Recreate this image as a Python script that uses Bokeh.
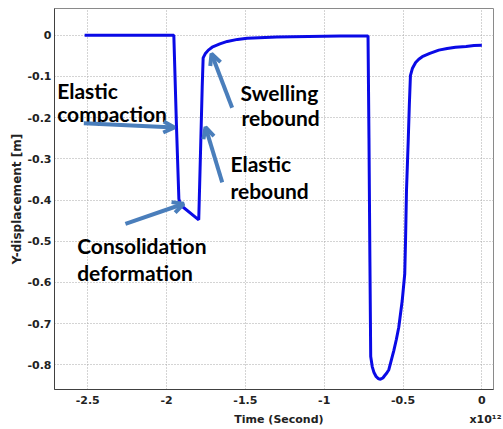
from bokeh.plotting import figure
from bokeh.models import (Range1d, FixedTicker, Arrow, OpenHead, ColumnDataSource,
                          LinearAxis)
from bokeh.core.properties import value
from bokeh.embed import file_html
from bokeh.resources import INLINE

# ---- data (time in units of 1e12 s, Y-displacement in m) ----
time_e12 = [-2.52, -1.954, -1.937, -1.922, -1.912, -1.796, -1.785, -1.774, -1.768,
            -1.755, -1.735, -1.711, -1.662, -1.615, -1.55, -1.489, -1.3, -1.1,
            -0.897, -0.722, -0.716, -0.710, -0.705, -0.695, -0.685, -0.670, -0.655,
            -0.643, -0.628, -0.616, -0.603, -0.590, -0.575, -0.558, -0.542, -0.527,
            -0.505, -0.489, -0.484, -0.478, -0.467, -0.460, -0.453, -0.440, -0.420,
            -0.400, -0.378, -0.330, -0.273, -0.220, -0.167, -0.100, -0.050, 0.0]
y_disp = [0.0, 0.0, -0.223, -0.397, -0.412, -0.448, -0.288, -0.126, -0.055,
          -0.045, -0.036, -0.029, -0.021, -0.015, -0.010, -0.007, -0.004, -0.003,
          -0.002, -0.002, -0.25, -0.55, -0.78, -0.805, -0.818, -0.829, -0.834,
          -0.835, -0.832, -0.826, -0.820, -0.812, -0.790, -0.765, -0.738, -0.709,
          -0.644, -0.579, -0.498, -0.377, -0.256, -0.17, -0.098, -0.080, -0.066,
          -0.058, -0.052, -0.044, -0.036, -0.032, -0.029, -0.027, -0.025, -0.024]

x_ticks = [-2.5, -2.0, -1.5, -1.0, -0.5, 0.0]
x_tick_labels = ["-2.5", "-2", "-1.5", "-1", "-0.5", "0"]
y_ticks = [0.0, -0.1, -0.2, -0.3, -0.4, -0.5, -0.6, -0.7, -0.8]
y_tick_labels = ["0", "-0.1", "-0.2", "-0.3", "-0.4", "-0.5", "-0.6", "-0.7", "-0.8"]

x_title = "Time (Second)"
x_exponent = "x10\u00b9\u00b2"

ann_text = ["Elastic", "compaction", "Swelling", "rebound", "Elastic", "rebound",
            "Consolidation", "deformation"]
ann_x = [-2.694, -2.694, -1.531, -1.525, -1.595, -1.595, -2.567, -2.567]
ann_y = [-0.134, -0.190, -0.138, -0.199, -0.312, -0.377, -0.510, -0.575]

arrow_x0 = [-2.525, -2.261, -1.647, -1.584]
arrow_y0 = [-0.2136, -0.458, -0.357, -0.176]
arrow_x1 = [-1.950, -1.891, -1.753, -1.715]
arrow_y1 = [-0.224, -0.409, -0.223, -0.045]

p = figure(width=503, height=429, output_backend="svg", toolbar_location=None,
           x_range=Range1d(-2.711, 0.074), y_range=Range1d(-0.86, 0.065),
           min_border_left=54, min_border_right=10, min_border_top=8,
           min_border_bottom=40)
p.background_fill_color = "white"
p.border_fill_color = "white"
p.outline_line_color = "#8a8a8a"
p.outline_line_width = 1

p.line(time_e12, y_disp, line_color="#0a0ae6", line_width=3)

src = ColumnDataSource(dict(x=ann_x, y=ann_y, t=ann_text))
p.text(x="x", y="y", text="t", source=src, text_font=value("Lato"),
       text_font_style="bold", text_font_size="21px", text_color="black",
       text_baseline="alphabetic", text_align="left")

arrow_color = "#4a7ebb"
for x0, y0, x1, y1 in zip(arrow_x0, arrow_y0, arrow_x1, arrow_y1):
    p.add_layout(Arrow(end=OpenHead(size=11, line_color=arrow_color, line_width=4),
                       x_start=x0, y_start=y0, x_end=x1, y_end=y1,
                       line_color=arrow_color, line_width=4))


def style_axis(ax):
    ax.major_tick_in = 0
    ax.major_tick_out = 0
    ax.minor_tick_in = 0
    ax.minor_tick_out = 0
    ax.axis_line_color = "#404040"
    ax.major_label_text_font = "DejaVu Sans"
    ax.major_label_text_font_style = "bold"
    ax.major_label_text_font_size = "11px"
    ax.major_label_text_color = "#222222"
    ax.axis_label_text_font = "DejaVu Sans"
    ax.axis_label_text_font_style = "bold"
    ax.axis_label_text_color = "#222222"


style_axis(p.xaxis[0])
style_axis(p.yaxis[0])

p.xaxis.ticker = FixedTicker(ticks=x_ticks)
p.xaxis.major_label_overrides = dict(zip(x_ticks, x_tick_labels))
p.xaxis.major_label_standoff = 6

# second, line-less axis below carrying the axis title and the exponent
title_pos = [-1.287, 0.023]
ax2 = LinearAxis(ticker=FixedTicker(ticks=title_pos),
                 major_label_overrides=dict(zip(title_pos, [x_title, x_exponent])))
style_axis(ax2)
ax2.axis_line_color = None
ax2.major_label_standoff = 6
p.add_layout(ax2, "below")

p.yaxis.ticker = FixedTicker(ticks=y_ticks)
p.yaxis.major_label_overrides = dict(zip(y_ticks, y_tick_labels))
p.yaxis.major_label_standoff = 3
p.yaxis.axis_label = "Y-displacement [m]"
p.yaxis.axis_label_text_font_size = "12px"
p.yaxis.axis_label_standoff = 0

p.xgrid.grid_line_color = "#a8a8a8"
p.xgrid.grid_line_dash = "1 2"
p.xgrid.ticker = FixedTicker(ticks=x_ticks)
p.ygrid.grid_line_color = "#a8a8a8"
p.ygrid.grid_line_dash = "1 2"

open("out.html", "w").write(file_html(p, INLINE))
